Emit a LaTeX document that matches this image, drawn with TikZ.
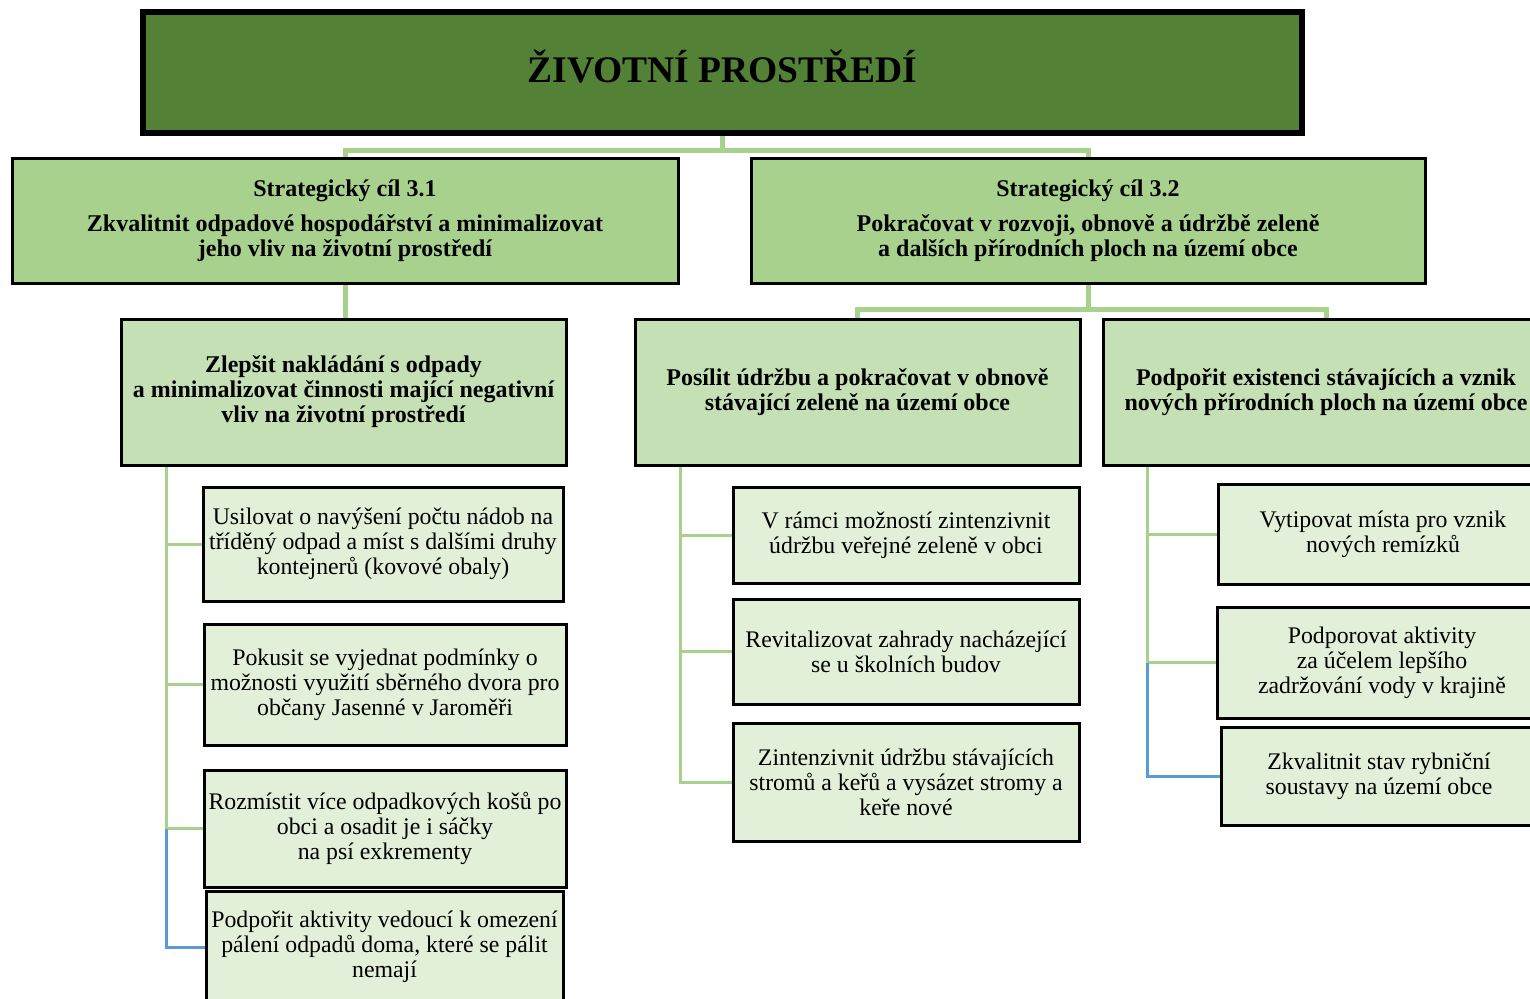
\documentclass[tikz,border=0pt]{standalone}
\usepackage{fontspec}
\setmainfont{Liberation Serif}
\usetikzlibrary{backgrounds}
\definecolor{dkgreen}{HTML}{538135}
\definecolor{midgreen}{HTML}{A9D18E}
\definecolor{ltgreen}{HTML}{C5E0B4}
\definecolor{paleg}{HTML}{E2EFD9}
\definecolor{lnblue}{HTML}{5B9BD5}
\begin{document}
\begin{tikzpicture}[x=0.5pt,y=-0.5pt,
  span/.style args={#1/#2/#3/#4}{at={({(#1+#3)/2},{(#2+#4)/2})},
     minimum width={(#3-#1)*0.5pt}, minimum height={(#4-#2)*0.5pt}},
  basebox/.style={draw=black, line width=1.5pt, inner sep=0pt, align=center},
  topbox/.style={basebox, line width=3pt, fill=dkgreen, text height=10.4pt, text depth=0pt, font=\fontsize{18.75}{20}\selectfont\bfseries},
  scbox/.style={basebox, fill=midgreen, font=\fontsize{12}{12.5}\selectfont\bfseries},
  goalbox/.style={basebox, fill=ltgreen, font=\fontsize{12}{12.5}\selectfont\bfseries},
  actbox/.style={basebox, fill=paleg, font=\fontsize{11.9}{12.5}\selectfont},
  mainconn/.style={draw=midgreen, line width=2.5pt},
  brconn/.style={draw=midgreen, line width=1.5pt},
  blconn/.style={draw=lnblue, line width=1.5pt}]
\useasboundingbox (0,0) rectangle (1530,998);
\clip (0,0) rectangle (1530,998);

% top
\node[topbox, span=143/12/1302/133] (top) {ŽIVOTNÍ PROSTŘEDÍ};
% strategic goals
\node[scbox, span=12/158/678/283] (sc1) {Strategický cíl 3.1\\[5pt]Zkvalitnit odpadové hospodářství a minimalizovat\\jeho vliv na životní prostředí};
\node[scbox, span=751/158/1425/283] (sc2) {Strategický cíl 3.2\\[5pt]Pokračovat v rozvoji, obnově a údržbě zeleně\\a dalších přírodních ploch na území obce};
% goals
\node[goalbox, span=121/319/566/465] (g1) {Zlepšit nakládání s odpady\\a minimalizovat činnosti mající negativní\\vliv na životní prostředí};
\node[goalbox, span=635/319/1080/465] (g2) {Posílit údržbu a pokračovat v obnově\\stávající zeleně na území obce};
\node[goalbox, span=1103/319/1549/465] (g3) {Podpořit existenci stávajících a vznik\\nových přírodních ploch na území obce};
% actions left
\node[actbox, span=203/487/563/601] (a1) {Usilovat o navýšení počtu nádob na\\tříděný odpad a míst s dalšími druhy\\kontejnerů (kovové obaly)};
\node[actbox, span=204/624/566/745] (a2) {Pokusit se vyjednat podmínky o\\možnosti využití sběrného dvora pro\\občany Jasenné v Jaroměři};
\node[actbox, span=204/770/566/887] (a3) {Rozmístit více odpadkových košů po\\obci a osadit je i sáčky\\na psí exkrementy};
\node[actbox, span=206/891/563/1003] (a4) {Podpořit aktivity vedoucí k omezení\\pálení odpadů doma, které se pálit\\nemají};
% actions middle
\node[actbox, span=733/487/1079/583] (b1) {V rámci možností zintenzivnit\\údržbu veřejné zeleně v obci};
\node[actbox, span=733/599/1079/704] (b2) {Revitalizovat zahrady nacházející\\se u školních budov};
\node[actbox, span=733/723/1079/841] (b3) {Zintenzivnit údržbu stávajících\\stromů a keřů a vysázet stromy a\\keře nové};
% actions right
\node[actbox, span=1218/484/1548/584] (c1) {Vytipovat místa pro vznik\\nových remízků};
\node[actbox, span=1217/607/1547/718] (c2) {Podporovat aktivity\\za účelem lepšího\\zadržování vody v krajině};
\node[actbox, span=1221/727/1537/825] (c3) {Zkvalitnit stav rybniční\\soustavy na území obce};

\coordinate (t1) at (166,465);
\coordinate (t2) at (680,465);
\coordinate (t3) at (1147,465);

\begin{scope}[on background layer]
  \draw[mainconn] (top.south) -- ++(0,14) -| (sc1.north);
  \draw[mainconn] (top.south) -- ++(0,14) -| (sc2.north);
  \draw[mainconn] (sc1.south) -- (sc1.south |- g1.north);
  \draw[mainconn] (sc2.south) -- ++(0,25) -| (g2.north);
  \draw[mainconn] (sc2.south) -- ++(0,25) -| (g3.north);
  % left branches
  \draw[brconn] (t1) |- (a1.west);
  \draw[brconn] (t1) |- (a2.west);
  \draw[brconn] (t1) |- (a3.west);
  \draw[blconn] (t1 |- a3.west) |- (a4.west);
  % middle branches
  \draw[brconn] (t2) |- (b1.west);
  \draw[brconn] (t2) |- (b2.west);
  \draw[brconn] (t2) |- (b3.west);
  % right branches
  \draw[brconn] (t3) |- (c1.west);
  \draw[brconn] (t3) |- (c2.west);
  \draw[blconn] (t3 |- c2.west) |- (c3.west);
\end{scope}
\end{tikzpicture}
\end{document}
